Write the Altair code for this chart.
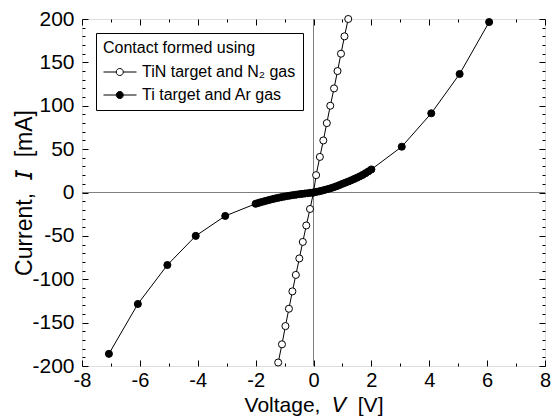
import altair as alt
import pandas as pd

# ---- data ----
tin_v = [-1.22, -1.09, -0.97, -0.85, -0.73, -0.61, -0.49, -0.37, -0.25, -0.12, 0.0,
         0.09, 0.22, 0.34, 0.46, 0.58, 0.71, 0.83, 0.95, 1.07, 1.20]
tin_i = [-196, -175, -154, -134, -114, -95, -76, -57, -38, -19, 0,
         20, 41, 60, 80, 100, 120, 140, 160, 180, 200]

ti_v = [-7.07, -6.07, -5.05, -4.07, -3.05,
        -2.0, -1.9, -1.8, -1.7, -1.6, -1.5, -1.4, -1.3, -1.2, -1.1, -1.0,
        -0.9, -0.8, -0.7, -0.6, -0.5, -0.4, -0.3, -0.2, -0.1, 0.0,
        0.1, 0.2, 0.3, 0.4, 0.5, 0.6, 0.7, 0.8, 0.9, 1.0,
        1.1, 1.2, 1.3, 1.4, 1.5, 1.6, 1.7, 1.8, 1.9, 2.0,
        3.05, 4.07, 5.05, 6.07]
ti_i = [-186, -128.5, -83.6, -50, -27,
        -13.0, -12.0, -11.0, -10.1, -9.2, -8.3, -7.5, -6.7, -6.0, -5.3, -4.7,
        -4.1, -3.5, -3.0, -2.5, -2.0, -1.6, -1.2, -0.8, -0.4, 0.0,
        0.7, 1.4, 2.2, 3.1, 4.0, 5.0, 6.1, 7.3, 8.6, 10.0,
        11.3, 12.6, 14.0, 15.5, 17.0, 18.6, 20.3, 22.3, 24.4, 26.6,
        52.8, 91.3, 136.6, 196.5]

series_names = ["TiN target and N\u2082 gas", "Ti target and Ar gas"]

x_major = [-8, -6, -4, -2, 0, 2, 4, 6, 8]
x_minor = [-7, -5, -3, -1, 1, 3, 5, 7]
y_major = [-200, -150, -100, -50, 0, 50, 100, 150, 200]
y_minor = [-190, -180, -170, -160, -140, -130, -120, -110, -90, -80, -70, -60,
           -40, -30, -20, -10, 10, 20, 30, 40, 60, 70, 80, 90,
           110, 120, 130, 140, 160, 170, 180, 190]
zero_line = [0]

NB = "\u00a0"
x_title = "Voltage," + NB * 2 + "\U0001D61D" + NB * 2 + "[V]"
y_title = "Current," + NB * 2 + "\U0001D610" + NB * 2 + "[mA]"

# ---- tables ----
rows = []
for k, (v, i) in enumerate(zip(tin_v, tin_i)):
    rows.append({"V": v, "I": i, "series": series_names[0], "idx": k})
for k, (v, i) in enumerate(zip(ti_v, ti_i)):
    rows.append({"V": v, "I": i, "series": series_names[1], "idx": k})
df = pd.DataFrame(rows)
zdf = pd.DataFrame({"z": zero_line})

FONT = "Liberation Sans"
xs = alt.Scale(domain=[-8, 8], nice=False, zero=False)
ys = alt.Scale(domain=[-200, 200], nice=False, zero=False)


def tick_axis(orient, values, size):
    return alt.Axis(orient=orient, values=values, tickSize=size, offset=-size,
                    domain=False, labels=False, title=None, grid=False,
                    tickColor="black", tickWidth=1)


# zero lines
hline = alt.Chart(zdf).mark_rule(color="#808080", strokeWidth=1).encode(
    y=alt.Y("z:Q", scale=ys, axis=None))
vline = alt.Chart(zdf).mark_rule(color="#808080", strokeWidth=1).encode(
    x=alt.X("z:Q", scale=xs, axis=None))

# lines with the main labelled axes
lines = alt.Chart(df).mark_line(color="black", strokeWidth=1).encode(
    x=alt.X("V:Q", scale=xs, axis=alt.Axis(
        orient="bottom", values=x_major, tickSize=6, offset=-6, domain=False,
        grid=False, tickColor="black", labelColor="black", labelFont=FONT,
        labelFontSize=20, labelPadding=4, labelFlush=False, labelOverlap=False,
        labelExpr="'' + datum.value",
        title=x_title, titleFont=FONT, titleFontSize=21,
        titleFontWeight="normal", titleColor="black",
        titleX=231.5, titleY=51, titleBaseline="alphabetic", titleAlign="center")),
    y=alt.Y("I:Q", scale=ys, axis=alt.Axis(
        orient="left", values=y_major, tickSize=6, offset=-6, domain=False,
        grid=False, tickColor="black", labelColor="black", labelFont=FONT,
        labelFontSize=21, labelPadding=8, labelFlush=False, labelOverlap=False,
        labelExpr="'' + datum.value",
        title=y_title, titleFont=FONT, titleFontSize=23,
        titleFontWeight="normal", titleColor="black",
        titleX=-57, titleY=173.5, titleBaseline="alphabetic", titleAlign="center",
        titleAngle=270)),
    detail="series:N",
    order="idx:Q",
)

legend_symbol = ("M-1,0L0.7,0M1.64,0L3.4,0"
                 "M1.64,0A0.47,0.47,0,1,1,0.7,0A0.47,0.47,0,1,1,1.64,0Z")

points = alt.Chart(df).mark_point(
    shape="circle", filled=True, stroke="black", strokeWidth=1, size=50, opacity=1
).encode(
    x=alt.X("V:Q", scale=xs, axis=tick_axis("bottom", x_minor, 3)),
    y=alt.Y("I:Q", scale=ys, axis=tick_axis("left", y_minor, 3)),
    fill=alt.Fill("series:N", scale=alt.Scale(domain=series_names, range=["white", "black"]),
                  legend=alt.Legend(
                      title="Contact formed using", orient="none", legendX=14, legendY=14,
                      symbolType=legend_symbol, symbolSize=225, symbolStrokeColor="black",
                      symbolStrokeWidth=1, labelFont=FONT, labelFontSize=16,
                      labelColor="black", labelLimit=400, labelOffset=23,
                      titleFont=FONT, titleFontSize=16, titleFontWeight="normal",
                      titleColor="black", titlePadding=8, rowPadding=7, padding=7,
                      strokeColor="black", fillColor="white")),
)

top_major = alt.Chart(df).mark_point(opacity=0).encode(
    x=alt.X("V:Q", scale=xs, axis=tick_axis("top", x_major, 6)),
    y=alt.Y("I:Q", scale=ys, axis=tick_axis("right", y_major, 6)),
)
top_minor = alt.Chart(df).mark_point(opacity=0).encode(
    x=alt.X("V:Q", scale=xs, axis=tick_axis("top", x_minor, 3)),
    y=alt.Y("I:Q", scale=ys, axis=tick_axis("right", y_minor, 3)),
)

chart = alt.layer(hline, vline, lines, points, top_major, top_minor).resolve_axis(
    x="independent", y="independent"
).properties(
    width=463, height=347,
    autosize=alt.AutoSizeParams(type="none"),
    padding={"left": 82, "top": 19, "right": 10, "bottom": 51},
).configure_view(stroke="black", strokeWidth=1).configure(background="white")

chart.save("out.html", embed_options={"renderer": "svg", "actions": False})
